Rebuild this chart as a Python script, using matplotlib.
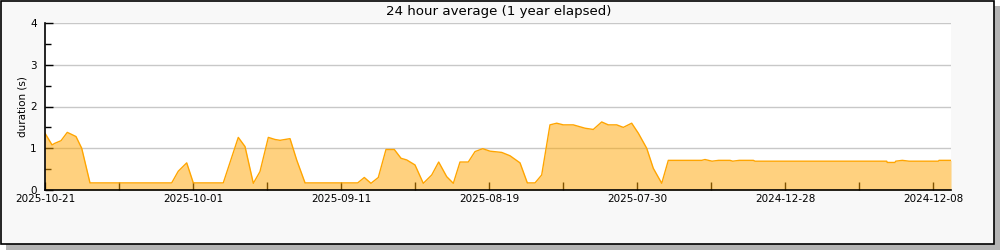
import matplotlib.pyplot as plt
from matplotlib.patches import Rectangle

# day offsets (from left edge) and 24h average duration in seconds
days = [0, 0.95, 1.35, 2.16, 3.01, 3.61, 4.19, 4.96, 6.08, 17.12, 18.01, 19.15,
        20.04, 24.09, 26.12, 27.03, 28.15, 29.05, 30.18, 31.08, 31.76, 33.11,
        34.01, 35.14, 42.26, 43.15, 44.05, 45.04, 46.08, 47.2, 48.11, 48.88,
        50.0, 51.12, 52.26, 53.2, 54.28, 55.18, 56.08, 57.2, 58.11, 59.15,
        60.14, 61.72, 62.84, 64.19, 65.18, 66.22, 67.12, 68.24, 69.15, 70.04,
        71.39, 72.97, 74.09, 75.23, 76.12, 77.26, 78.15, 79.28, 80.18, 81.31,
        82.2, 83.34, 84.23, 88.74, 89.19, 90.14, 91.03, 92.57, 92.93, 93.82,
        95.72, 95.95, 113.74, 113.82, 114.86, 114.96, 115.85, 116.76, 120.72,
        120.81, 122.43]
duration = [1.36, 1.08, 1.12, 1.18, 1.38, 1.33, 1.28, 1.0, 0.17, 0.17, 0.45, 0.65,
            0.17, 0.17, 1.26, 1.04, 0.16, 0.44, 1.26, 1.21, 1.19, 1.23,
            0.72, 0.17, 0.17, 0.30, 0.16, 0.30, 0.97, 0.97, 0.76, 0.72,
            0.60, 0.16, 0.36, 0.67, 0.32, 0.16, 0.67, 0.67, 0.92, 0.99,
            0.93, 0.90, 0.82, 0.65, 0.17, 0.17, 0.36, 1.56, 1.60, 1.56,
            1.56, 1.48, 1.45, 1.63, 1.56, 1.56, 1.50, 1.60, 1.36, 1.0,
            0.52, 0.16, 0.71, 0.71, 0.73, 0.69, 0.71, 0.71, 0.69, 0.71,
            0.71, 0.69, 0.69, 0.66, 0.66, 0.69, 0.71, 0.69, 0.69,
            0.71, 0.71]

tick_pos = [0, 20, 40, 60, 80, 100, 120]
tick_labels = ['2025-10-21', '2025-10-01', '2025-09-11', '2025-08-19',
               '2025-07-30', '2024-12-28', '2024-12-08']
minor_pos = [10, 30, 50, 70, 90, 110]

plt.rcParams['font.family'] = 'DejaVu Sans'
plt.rcParams['font.size'] = 7.5

fig = plt.figure(figsize=(10, 2.5), dpi=100, facecolor='white')

# shadow + frame
fig.patches.append(Rectangle((0.006, 0.0), 0.994, 0.976, transform=fig.transFigure,
                             facecolor='#b4b4b4', edgecolor='none', zorder=-3))
fig.patches.append(Rectangle((0.001, 0.024), 0.993, 0.974, transform=fig.transFigure,
                             facecolor='#f8f8f8', edgecolor='black', linewidth=1.2, zorder=-2))

ax = fig.add_axes([0.045, 0.24, 0.906, 0.668])
ax.set_facecolor('white')

ax.fill_between(days, duration, 0, color='#ffa500', alpha=0.5, linewidth=0, zorder=2)
ax.plot(days, duration, color='#ffa500', linewidth=1.0, zorder=3)

ax.set_xlim(0, 122.43)
ax.set_ylim(0, 4)
ax.set_yticks([0, 1, 2, 3, 4])
ax.set_yticks([0.5, 1.5, 2.5, 3.5], minor=True)
ax.set_xticks(tick_pos)
ax.set_xticklabels(tick_labels)
ax.set_xticks(minor_pos, minor=True)

for y in [1, 2, 3, 4]:
    ax.axhline(y, color='#c8c8c8', linewidth=1.0, zorder=1)

ax.tick_params(axis='both', which='major', direction='in', length=6, width=1,
               color='black', labelsize=7.5, pad=3)
ax.tick_params(axis='x', which='minor', direction='in', length=6, width=1)
ax.tick_params(axis='y', which='minor', direction='in', length=4, width=1)
ax.tick_params(axis='y', which='major', pad=6)

for s in ['top', 'right']:
    ax.spines[s].set_visible(False)
for s in ['left', 'bottom']:
    ax.spines[s].set_linewidth(1.2)
    ax.spines[s].set_zorder(4)

ax.set_ylabel('duration (s)', fontsize=7.5, labelpad=2)
fig.text(0.499, 0.954, '24 hour average (1 year elapsed)', ha='center', va='center',
         fontsize=9.6)

fig.savefig('out.png', dpi=100, facecolor=fig.get_facecolor())
